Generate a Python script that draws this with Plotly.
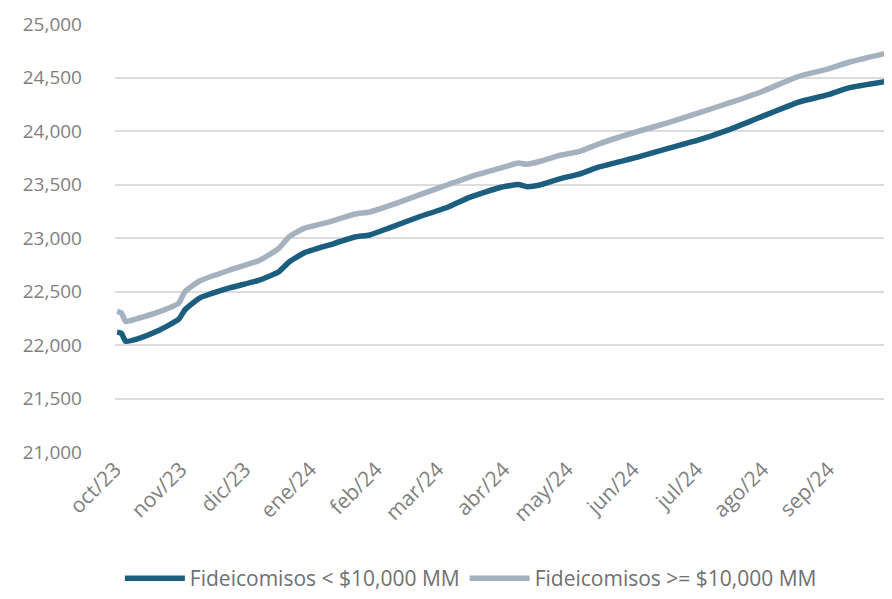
import plotly.graph_objects as go

# fechas (lecturas aproximadas del gráfico)
fechas = [
    "2023-10-02", "2023-10-04", "2023-10-06", "2023-10-12", "2023-10-21", "2023-10-31",
    "2023-11-03", "2023-11-10", "2023-11-24", "2023-12-08", "2023-12-17", "2023-12-22",
    "2023-12-29", "2024-01-10", "2024-01-22", "2024-01-29", "2024-02-07", "2024-02-21",
    "2024-03-06", "2024-03-16", "2024-03-30", "2024-04-08", "2024-04-12", "2024-04-18",
    "2024-04-27", "2024-05-07", "2024-05-16", "2024-06-04", "2024-06-18", "2024-07-02",
    "2024-07-16", "2024-07-30", "2024-08-18", "2024-09-01", "2024-09-11", "2024-09-30",
]
menores = [
    22120, 22110, 22035, 22060, 22130, 22240,
    22330, 22440, 22533, 22607, 22682, 22776,
    22860, 22935, 23009, 23028, 23093, 23196,
    23290, 23380, 23470, 23500, 23480, 23495,
    23550, 23600, 23664, 23760, 23840, 23916,
    24010, 24121, 24270, 24340, 24405, 24470,
]
mayores = [
    22315, 22300, 22220, 22250, 22305, 22390,
    22500, 22600, 22700, 22790, 22900, 23010,
    23090, 23150, 23224, 23243, 23300, 23400,
    23500, 23570, 23650, 23700, 23690, 23715,
    23770, 23810, 23880, 24000, 24080, 24170,
    24260, 24355, 24510, 24580, 24645, 24735,
]
meses = [
    "2023-10-01", "2023-11-01", "2023-12-01", "2024-01-01", "2024-02-01", "2024-03-01",
    "2024-04-01", "2024-05-01", "2024-06-01", "2024-07-01", "2024-08-01", "2024-09-01",
]
etiquetas_meses = [
    "oct/23", "nov/23", "dic/23", "ene/24", "feb/24", "mar/24",
    "abr/24", "may/24", "jun/24", "jul/24", "ago/24", "sep/24",
]

fig = go.Figure()
fig.add_trace(go.Scatter(
    x=fechas, y=menores, mode="lines", name="Fideicomisos < $10,000 MM",
    line=dict(color="#1b5e7f", width=5.5, shape="spline", smoothing=0.4),
))
fig.add_trace(go.Scatter(
    x=fechas, y=mayores, mode="lines", name="Fideicomisos >= $10,000 MM",
    line=dict(color="#a3b2be", width=5.5, shape="spline", smoothing=0.4),
))

# the page body has an 8px margin, so the figure is sized to fill the rest
fig.update_layout(
    width=884, height=591,
    margin=dict(l=107, r=0, t=16, b=143),
    plot_bgcolor="white", paper_bgcolor="white",
    font=dict(family="Open Sans", size=17, color="#7f7f7f"),
    showlegend=True,
    legend=dict(orientation="h", x=0.458, xanchor="center", y=-0.296, yanchor="middle",
                font=dict(size=21, color="#707070"), itemwidth=60),
)
fig.update_xaxes(
    type="date", range=["2023-10-01", "2024-10-01"], automargin=False,
    tickvals=meses, ticktext=etiquetas_meses, tickangle=-45,
    showgrid=False, showline=False, ticks="", zeroline=False,
    tickfont=dict(size=21, color="#7f7f7f"),
)
fig.update_yaxes(
    range=[21000, 25000], dtick=500, tickformat=",d", automargin=False,
    showgrid=True, gridcolor="#dcdcdc", gridwidth=2,
    zeroline=False, showline=False, ticks="",
    ticklabelstandoff=32,
    tickfont=dict(size=19, color="#7f7f7f"),
)

fig.write_html("out.html")
